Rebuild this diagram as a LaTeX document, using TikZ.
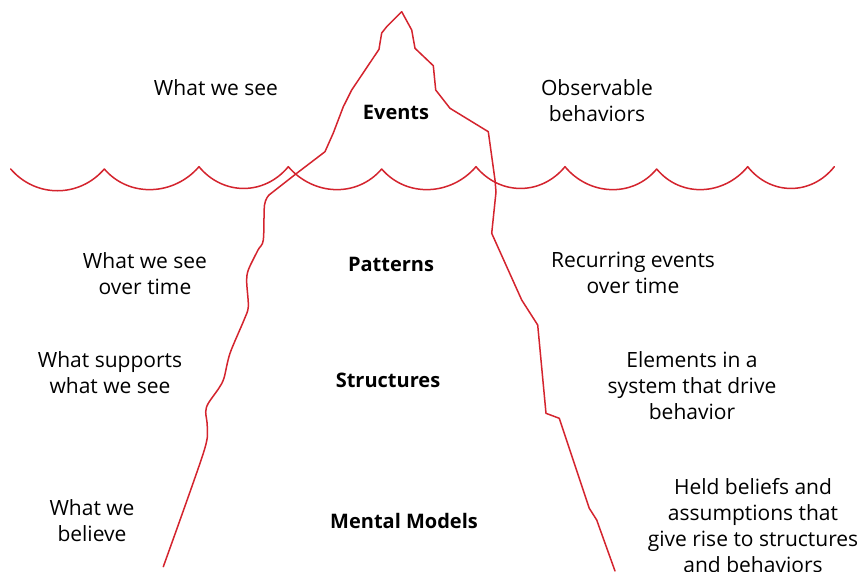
\documentclass[tikz,border=0pt]{standalone}
\usepackage{fontspec}
\setmainfont{Open Sans}
\definecolor{icered}{RGB}{212,36,46}
\begin{document}
\begin{tikzpicture}[x=1pt,y=-1pt,
  ice/.style={draw=icered,line width=1.5pt,line join=round,line cap=round},
  lbl/.style={inner sep=0pt,align=center,font=\fontsize{21}{26}\selectfont},
  lvl/.style={inner sep=0pt,align=center,font=\fontsize{20}{26}\selectfont\bfseries}]
\fill[white] (0,0) rectangle (862,571);
\useasboundingbox (0,0) rectangle (862,571);
% waves
\draw[ice] (10.7,169)
  .. controls +(25,29) and +(-25,29) .. (104.3,169)
  .. controls +(25,29) and +(-25,29) .. (199,166.7)
  .. controls +(24,29) and +(-24,29) .. (288.3,166.7)
  .. controls +(25,29) and +(-25,29) .. (381.7,169)
  .. controls +(25,29) and +(-25,29) .. (476,166.7)
  .. controls +(24,29) and +(-24,29) .. (565,166.7)
  .. controls +(24,29) and +(-24,29) .. (656.7,169)
  .. controls +(24,29) and +(-24,29) .. (747.7,166.7)
  .. controls +(23,29) and +(-23,29) .. (834.3,166.7);
% iceberg left side
\draw[ice] (401.7,11.7) -- (386.7,26.7) -- (381.7,33) -- (380,43) -- (379,49.3)
  -- (351.7,90) -- (343.3,106.7) -- (333.3,133) -- (325,151.7)
  -- (296.7,173.3) -- (269,195);
\draw[ice] plot[smooth,tension=0.5] coordinates {(269,195) (264.5,205) (263.3,240) (258,250) (248.3,270) (246.7,282) (248.3,306.7) (244,320) (230,353.3) (224,378) (219,388) (208.3,403.3) (205.7,412) (207.3,428) (203.3,453.3) (163.3,566.7)};
% iceberg right side
\draw[ice] (401.7,11.7) -- (411.7,30) -- (415,48.3) -- (433.3,65.7) -- (435.7,90)
  -- (450,108.3) -- (488.3,131.7) -- (495,180) -- (496,192) -- (491.7,233.3)
  -- (521.7,300) -- (537.7,325) -- (546,413.3) -- (559.3,418.3)
  -- (589.3,508.3) -- (596.7,520) -- (615,571);
% labels
\node[lbl] (see) at (216,88) {What we see};
\node[lbl] (obs) at (597,101) {Observable\\behaviors};
\node[lvl] (events) at (396,112) {Events};
\node[lbl] (seetime) at (145,274) {What we see\\over time};
\node[lvl] (patterns) at (391,264) {Patterns};
\node[lbl] (recur) at (633,273) {Recurring events\\over time};
\node[lbl] (supports) at (110,373) {What supports\\what we see};
\node[lvl] (structures) at (388,380) {Structures};
\node[lbl] (elements) at (692,386) {Elements in a\\system that drive\\behavior};
\node[lbl] (believe) at (92,521) {What we\\believe};
\node[lvl] (mental) at (404,521) {Mental Models};
\node[lbl,anchor=north] (held) at (753,478) {Held beliefs and\\assumptions that\\give rise to structures\\and behaviors};
\end{tikzpicture}
\end{document}
